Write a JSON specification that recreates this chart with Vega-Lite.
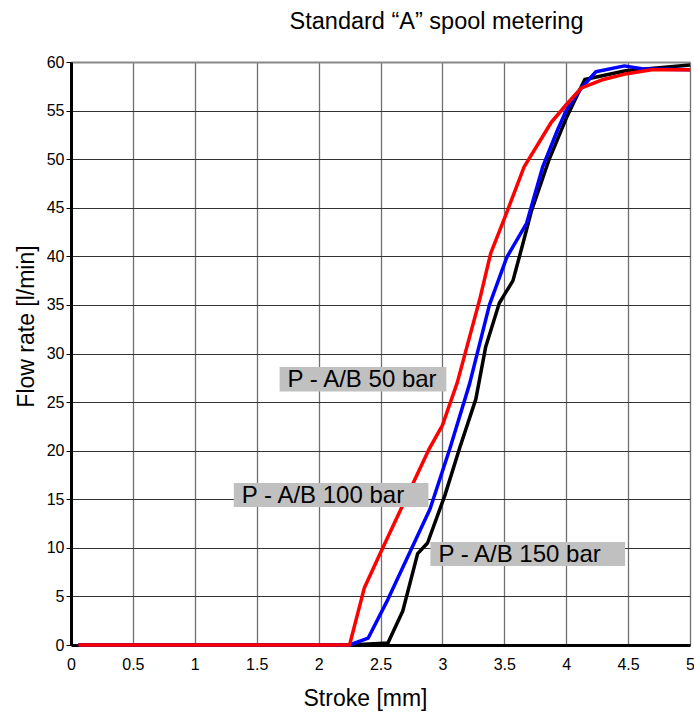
{
  "$schema": "https://vega.github.io/schema/vega-lite/v6.json",
  "autosize": {"type": "none"},
  "padding": {"left": 71, "top": 62, "right": 4, "bottom": 67},
  "width": 619,
  "height": 583,
  "background": "white",
  "config": {
    "font": "Liberation Sans",
    "view": {"stroke": null},
    "axis": {"labelColor": "black", "titleColor": "black", "labelFont": "Liberation Sans", "titleFont": "Liberation Sans"}
  },
  "title": {
    "text": "Standard \u201cA\u201d spool metering",
    "fontSize": 23.5,
    "fontWeight": "normal",
    "color": "black",
    "anchor": "middle",
    "dx": 56,
    "baseline": "alphabetic",
    "offset": 2
  },
  "datasets": {
    "curves": [
      {"series": "P - A/B 150 bar", "stroke": 0.06, "flow": 0},
      {"series": "P - A/B 150 bar", "stroke": 2.25, "flow": 0},
      {"series": "P - A/B 150 bar", "stroke": 2.56, "flow": 0.2},
      {"series": "P - A/B 150 bar", "stroke": 2.68, "flow": 3.5},
      {"series": "P - A/B 150 bar", "stroke": 2.80, "flow": 9.4},
      {"series": "P - A/B 150 bar", "stroke": 2.88, "flow": 10.5},
      {"series": "P - A/B 150 bar", "stroke": 3.02, "flow": 15.4},
      {"series": "P - A/B 150 bar", "stroke": 3.14, "flow": 20.3},
      {"series": "P - A/B 150 bar", "stroke": 3.27, "flow": 25.3},
      {"series": "P - A/B 150 bar", "stroke": 3.35, "flow": 30.7},
      {"series": "P - A/B 150 bar", "stroke": 3.46, "flow": 35.2},
      {"series": "P - A/B 150 bar", "stroke": 3.57, "flow": 37.5},
      {"series": "P - A/B 150 bar", "stroke": 3.65, "flow": 41.3},
      {"series": "P - A/B 150 bar", "stroke": 3.72, "flow": 44.7},
      {"series": "P - A/B 150 bar", "stroke": 3.86, "flow": 49.9},
      {"series": "P - A/B 150 bar", "stroke": 4.0, "flow": 54.2},
      {"series": "P - A/B 150 bar", "stroke": 4.15, "flow": 58.2},
      {"series": "P - A/B 150 bar", "stroke": 4.48, "flow": 59.1},
      {"series": "P - A/B 150 bar", "stroke": 5.0, "flow": 59.7},
      {"series": "P - A/B 100 bar", "stroke": 0.06, "flow": 0},
      {"series": "P - A/B 100 bar", "stroke": 2.25, "flow": 0},
      {"series": "P - A/B 100 bar", "stroke": 2.40, "flow": 0.7},
      {"series": "P - A/B 100 bar", "stroke": 2.56, "flow": 4.7},
      {"series": "P - A/B 100 bar", "stroke": 2.90, "flow": 14.0},
      {"series": "P - A/B 100 bar", "stroke": 3.06, "flow": 20.2},
      {"series": "P - A/B 100 bar", "stroke": 3.22, "flow": 26.9},
      {"series": "P - A/B 100 bar", "stroke": 3.38, "flow": 35.0},
      {"series": "P - A/B 100 bar", "stroke": 3.52, "flow": 39.9},
      {"series": "P - A/B 100 bar", "stroke": 3.68, "flow": 43.4},
      {"series": "P - A/B 100 bar", "stroke": 3.81, "flow": 49.2},
      {"series": "P - A/B 100 bar", "stroke": 3.93, "flow": 53.0},
      {"series": "P - A/B 100 bar", "stroke": 4.0, "flow": 55.0},
      {"series": "P - A/B 100 bar", "stroke": 4.12, "flow": 57.3},
      {"series": "P - A/B 100 bar", "stroke": 4.24, "flow": 59.0},
      {"series": "P - A/B 100 bar", "stroke": 4.47, "flow": 59.6},
      {"series": "P - A/B 100 bar", "stroke": 4.61, "flow": 59.3},
      {"series": "P - A/B 100 bar", "stroke": 5.0, "flow": 59.2},
      {"series": "P - A/B 50 bar", "stroke": 0.06, "flow": 0},
      {"series": "P - A/B 50 bar", "stroke": 2.25, "flow": 0},
      {"series": "P - A/B 50 bar", "stroke": 2.37, "flow": 5.9},
      {"series": "P - A/B 50 bar", "stroke": 2.5, "flow": 9.5},
      {"series": "P - A/B 50 bar", "stroke": 2.89, "flow": 20.1},
      {"series": "P - A/B 50 bar", "stroke": 3.0, "flow": 22.6},
      {"series": "P - A/B 50 bar", "stroke": 3.12, "flow": 27.0},
      {"series": "P - A/B 50 bar", "stroke": 3.30, "flow": 35.5},
      {"series": "P - A/B 50 bar", "stroke": 3.39, "flow": 40.3},
      {"series": "P - A/B 50 bar", "stroke": 3.51, "flow": 44.2},
      {"series": "P - A/B 50 bar", "stroke": 3.66, "flow": 49.2},
      {"series": "P - A/B 50 bar", "stroke": 3.88, "flow": 53.8},
      {"series": "P - A/B 50 bar", "stroke": 4.0, "flow": 55.6},
      {"series": "P - A/B 50 bar", "stroke": 4.12, "flow": 57.3},
      {"series": "P - A/B 50 bar", "stroke": 4.3, "flow": 58.2},
      {"series": "P - A/B 50 bar", "stroke": 4.49, "flow": 58.8},
      {"series": "P - A/B 50 bar", "stroke": 4.69, "flow": 59.2},
      {"series": "P - A/B 50 bar", "stroke": 5.0, "flow": 59.2}
    ],
    "labels": [
      {"label": "P - A/B 50 bar", "x1": 1.685, "x2": 3.032, "y1": 26.1, "y2": 28.6},
      {"label": "P - A/B 100 bar", "x1": 1.315, "x2": 2.887, "y1": 14.2, "y2": 16.67},
      {"label": "P - A/B 150 bar", "x1": 2.903, "x2": 4.476, "y1": 8.13, "y2": 10.6}
    ]
  },
  "layer": [
    {
      "data": {"name": "curves"},
      "mark": {"type": "line", "strokeWidth": 3.5, "strokeJoin": "round", "clip": false},
      "encoding": {
        "x": {
          "field": "stroke", "type": "quantitative",
          "scale": {"domain": [0, 5], "nice": false, "zero": false},
          "axis": {
            "values": [0, 0.5, 1, 1.5, 2, 2.5, 3, 3.5, 4, 4.5, 5],
            "format": "~g",
            "domainColor": "black", "domainWidth": 3,
            "ticks": false,
            "labelFontSize": 16, "labelPadding": 11, "labelFlush": false,
            "grid": true, "gridColor": "#707070", "gridWidth": 1.3,
            "title": "Stroke [mm]", "titleFontSize": 23, "titleFontWeight": "normal",
            "titleX": 294, "titleY": 60, "titleBaseline": "alphabetic", "titleAlign": "center"
          }
        },
        "y": {
          "field": "flow", "type": "quantitative",
          "scale": {"domain": [0, 60], "nice": false},
          "axis": {
            "values": [0, 5, 10, 15, 20, 25, 30, 35, 40, 45, 50, 55, 60],
            "domainColor": "black", "domainWidth": 3,
            "ticks": true, "tickSize": 5, "tickColor": "black", "tickWidth": 1,
            "labelFontSize": 16, "labelPadding": 2,
            "grid": true,
            "gridColor": {"condition": {"test": "datum.value == 60", "value": "#888888"}, "value": "#333333"},
            "gridWidth": {"condition": {"test": "datum.value == 60", "value": 2}, "value": 1.2},
            "title": "Flow rate [l/min]", "titleFontSize": 23, "titleFontWeight": "normal",
            "titleX": -38, "titleY": 264, "titleBaseline": "alphabetic", "titleAlign": "center", "titleAngle": -90
          }
        },
        "color": {
          "field": "series", "type": "nominal",
          "scale": {"domain": ["P - A/B 50 bar", "P - A/B 100 bar", "P - A/B 150 bar"], "range": ["#ff0000", "#0000ff", "#000000"]},
          "legend": null
        },
        "order": {"field": "stroke", "type": "quantitative"}
      }
    },
    {
      "data": {"name": "labels"},
      "mark": {"type": "rect", "color": "#c0c0c0"},
      "encoding": {
        "x": {"field": "x1", "type": "quantitative"},
        "x2": {"field": "x2"},
        "y": {"field": "y1", "type": "quantitative"},
        "y2": {"field": "y2"}
      }
    },
    {
      "data": {"name": "labels"},
      "transform": [{"calculate": "(datum.y1 + datum.y2) / 2", "as": "ym"}],
      "mark": {"type": "text", "align": "left", "baseline": "middle", "dx": 8, "dy": 1, "fontSize": 24, "color": "black", "font": "Liberation Sans"},
      "encoding": {
        "x": {"field": "x1", "type": "quantitative"},
        "y": {"field": "ym", "type": "quantitative"},
        "text": {"field": "label"}
      }
    }
  ]
}
